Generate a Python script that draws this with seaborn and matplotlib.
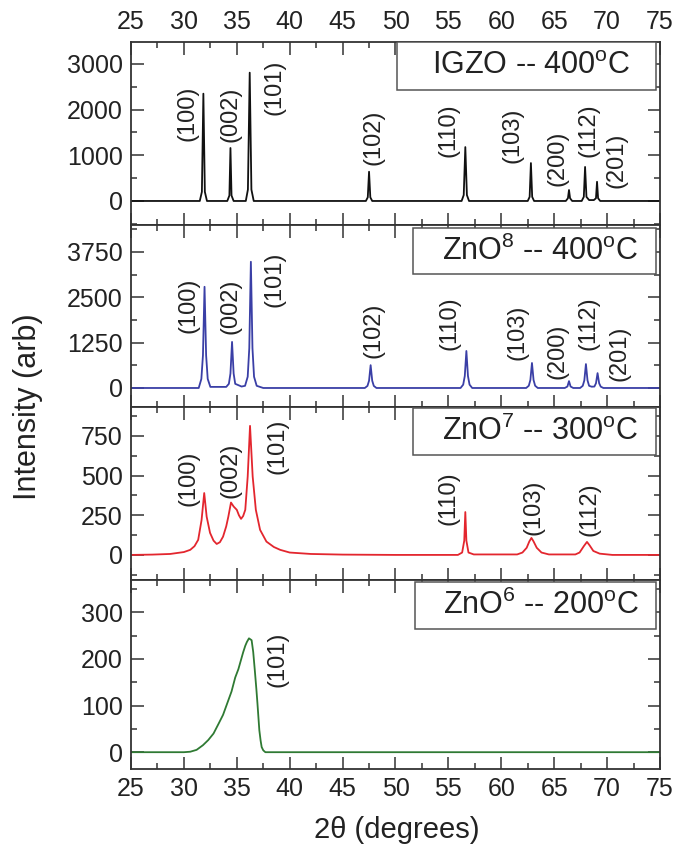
import matplotlib.pyplot as plt
import matplotlib.ticker as mticker
from matplotlib.patches import Rectangle
import seaborn as sns
import pandas as pd

# ---- data (2theta in degrees, intensity arb.) ----
igzo_2theta = [25, 31.5, 31.7, 31.84, 31.98, 32.18, 34.1, 34.3, 34.4, 34.5, 34.7,
               35.85, 36.05, 36.22, 36.38, 36.6, 47.2, 47.38, 47.5, 47.62, 47.8,
               56.25, 56.45, 56.6, 56.75, 56.95, 62.5, 62.68, 62.8, 62.92, 63.1,
               66.1, 66.3, 66.4, 66.5, 66.7, 67.6, 67.8, 67.92, 68.05, 68.3,
               68.75, 68.95, 69.05, 69.15, 69.35, 75]
igzo_counts = [0, 0, 200, 2350, 200, 0, 0, 120, 1160, 120, 0,
               0, 250, 2810, 250, 0, 0, 80, 640, 80, 0,
               0, 130, 1180, 130, 0, 0, 90, 830, 90, 0,
               0, 60, 240, 60, 0, 0, 90, 745, 90, 20,
               20, 60, 420, 60, 0, 0]

zno8_2theta = [25, 31.4, 31.65, 31.8, 31.95, 32.1, 32.25, 32.5,
               34.0, 34.25, 34.4, 34.55, 34.7, 34.85, 35.45,
               35.78, 36.03, 36.18, 36.33, 36.48, 36.63, 36.88, 37.5,
               47.1, 47.35, 47.5, 47.65, 47.8, 47.95, 48.2,
               56.15, 56.4, 56.55, 56.7, 56.85, 57.0, 57.25,
               62.35, 62.6, 62.75, 62.9, 63.05, 63.2, 63.45,
               66.0, 66.25, 66.4, 66.55, 66.8,
               67.45, 67.7, 67.85, 68.0, 68.15, 68.3, 68.55,
               68.8, 68.95, 69.1, 69.25, 69.4, 69.65, 75]
zno8_counts = [0, 0, 250, 900, 2790, 900, 250, 30,
               30, 115, 400, 1270, 400, 115, 40,
               60, 310, 1100, 3480, 1100, 310, 60, 0,
               0, 57, 200, 630, 200, 57, 0,
               0, 92, 330, 1020, 330, 92, 0,
               0, 62, 220, 690, 220, 62, 0,
               0, 40, 190, 40, 0,
               0, 60, 210, 660, 210, 60, 35,
               40, 130, 410, 130, 37, 0, 0]

zno7_2theta = [25, 27, 28.7, 30.0, 30.6, 31.0, 31.35, 31.67, 31.92, 32.15, 32.47,
               32.8, 33.1, 33.4, 33.7, 34.0, 34.2, 34.45, 34.7, 35.0, 35.2, 35.4,
               35.6, 35.8, 36.03, 36.25, 36.5, 36.8, 37.2, 37.8, 38.5, 39.1, 40.0,
               42, 45, 50, 55.9, 56.3, 56.5, 56.6, 56.7, 56.9, 57.4, 61.5, 62.0,
               62.4, 62.65, 62.85, 63.05, 63.35, 63.8, 64.5, 67.0, 67.4, 67.8,
               68.1, 68.35, 68.7, 69.3, 70.5, 75]
zno7_counts = [0, 2, 6, 18, 32, 55, 95, 220, 390, 241, 139,
               90, 69, 80, 115, 180, 241, 330, 305, 284, 250, 227,
               245, 284, 494, 813, 494, 284, 158, 84, 50, 32, 15,
               6, 2, 0, 0, 15, 90, 270, 90, 15, 3, 3, 15,
               45, 85, 107, 85, 45, 15, 3, 3, 15, 55,
               82, 60, 25, 8, 0, 0]

zno6_2theta = [25, 30, 30.6, 31.2, 31.8, 32.3, 32.8, 33.3, 33.7, 34.1, 34.5,
               34.85, 35.15, 35.4, 35.6, 35.8, 35.95, 36.15, 36.4, 36.55, 36.7,
               36.85, 36.95, 37.13, 37.25, 37.35, 37.5, 37.7, 75]
zno6_counts = [0, 0, 1, 5, 15, 26, 40, 62, 80, 105, 130,
               160, 178, 198, 214, 228, 236, 244, 240, 215, 176,
               135, 105, 47, 25, 11, 4, 0, 0]

sample_labels = [r'IGZO -- 400$^{\mathrm{o}}$C', r'ZnO$^{8}$ -- 400$^{\mathrm{o}}$C',
                 r'ZnO$^{7}$ -- 300$^{\mathrm{o}}$C', r'ZnO$^{6}$ -- 200$^{\mathrm{o}}$C']
line_colors = ['#111111', '#3a3fa6', '#e3262e', '#2f7a33']

full_hkl = ['(100)', '(002)', '(101)', '(102)', '(110)', '(103)', '(200)', '(112)', '(201)']
zno7_hkl = ['(100)', '(002)', '(101)', '(110)', '(103)', '(112)']
zno6_hkl = ['(101)']

# annotation positions (data coords) for the hkl labels
igzo_lab_x = [30.3, 34.36, 38.6, 47.9, 55.0, 61.1, 65.3, 68.2, 70.9]
igzo_lab_y = [1927, 1894, 2486, 1402, 1555, 1445, 931, 1555, 898]
zno8_lab_x = [30.4, 34.4, 38.6, 47.9, 55.1, 61.5, 65.3, 68.2, 71.2]
zno8_lab_y = [2288, 2247, 2991, 1585, 1778, 1544, 1006, 1778, 951]
zno7_lab_x = [30.4, 34.4, 38.8, 55.0, 63.0, 68.3]
zno7_lab_y = [482, 535, 684, 356, 299, 287]
zno6_lab_x = [38.8]
zno6_lab_y = [198]

sns.set_theme(style='ticks')
plt.rcParams['font.family'] = ['Liberation Sans', 'DejaVu Sans']
plt.rcParams['mathtext.fontset'] = 'custom'
plt.rcParams['mathtext.rm'] = 'Liberation Sans'
plt.rcParams['mathtext.it'] = 'Liberation Sans:italic'

panels = [
    (igzo_2theta, igzo_counts, (-526, 3482), 1000, full_hkl, igzo_lab_x, igzo_lab_y, (0.503, 0.738, 0.489, 0.262)),
    (zno8_2theta, zno8_counts, (-524, 4494), 1250, full_hkl, zno8_lab_x, zno8_lab_y, (0.533, 0.731, 0.459, 0.253)),
    (zno7_2theta, zno7_counts, (-158, 932), 250, zno7_hkl, zno7_lab_x, zno7_lab_y, (0.533, 0.723, 0.459, 0.271)),
    (zno6_2theta, zno6_counts, (-36, 369), 100, zno6_hkl, zno6_lab_x, zno6_lab_y, (0.537, 0.741, 0.455, 0.248)),
]

fig, axes = plt.subplots(4, 1, figsize=(6.76, 8.5), dpi=100, sharex=True,
                         gridspec_kw=dict(height_ratios=[183, 182, 173, 189], hspace=0))
fig.subplots_adjust(left=0.1938, right=0.9763, top=0.9506, bottom=0.0953)

for i, (ax, p) in enumerate(zip(axes, panels)):
    xs, ys, ylim, ymaj, hkl, lx, ly, box = p
    df = pd.DataFrame({'two_theta': xs, 'intensity': ys})
    sns.lineplot(data=df, x='two_theta', y='intensity', ax=ax, color=line_colors[i],
                 linewidth=1.3, estimator=None, sort=False)
    ax.set_xlim(25, 75)
    ax.set_ylim(*ylim)
    ax.set_xlabel('')
    ax.set_ylabel('')
    ax.xaxis.set_major_locator(mticker.MultipleLocator(5))
    ax.xaxis.set_minor_locator(mticker.MultipleLocator(2.5))
    ax.yaxis.set_major_locator(mticker.MultipleLocator(ymaj))
    ax.yaxis.set_minor_locator(mticker.MultipleLocator(ymaj / 2))
    ax.tick_params(which='both', direction='in', top=True, right=True,
                   color='#333333', labelcolor='#222222', labelsize=18, width=1.1)
    ax.tick_params(which='major', length=9, pad=6)
    ax.tick_params(which='minor', length=4.5)
    for s in ax.spines.values():
        s.set_linewidth(1.3)
        s.set_color('#333333')

    for name, tx, ty in zip(hkl, lx, ly):
        ax.text(tx, ty, name, rotation=90, ha='center', va='center',
                fontsize=17, color='#222222')

    bx, by, bw, bh = box
    ax.add_patch(Rectangle((bx, by), bw, bh, transform=ax.transAxes, facecolor='white',
                           edgecolor='#555555', linewidth=1.1, zorder=3))
    ax.text(bx + bw / 2 + 0.01, by + bh / 2, sample_labels[i], transform=ax.transAxes,
            ha='center', va='center', fontsize=22, color='#222222', zorder=4)

axes[0].tick_params(labeltop=True, labelbottom=False)
for ax in axes[1:3]:
    ax.tick_params(labelbottom=False)
axes[3].tick_params(labelbottom=True)

fig.text(0.041, 0.522, 'Intensity (arb)', rotation=90, ha='center', va='center',
         fontsize=22, color='#222222')
fig.text(0.587, 0.024, '2θ (degrees)', ha='center', va='center', fontsize=21,
         color='#222222')

fig.savefig('out.png', dpi=100)
